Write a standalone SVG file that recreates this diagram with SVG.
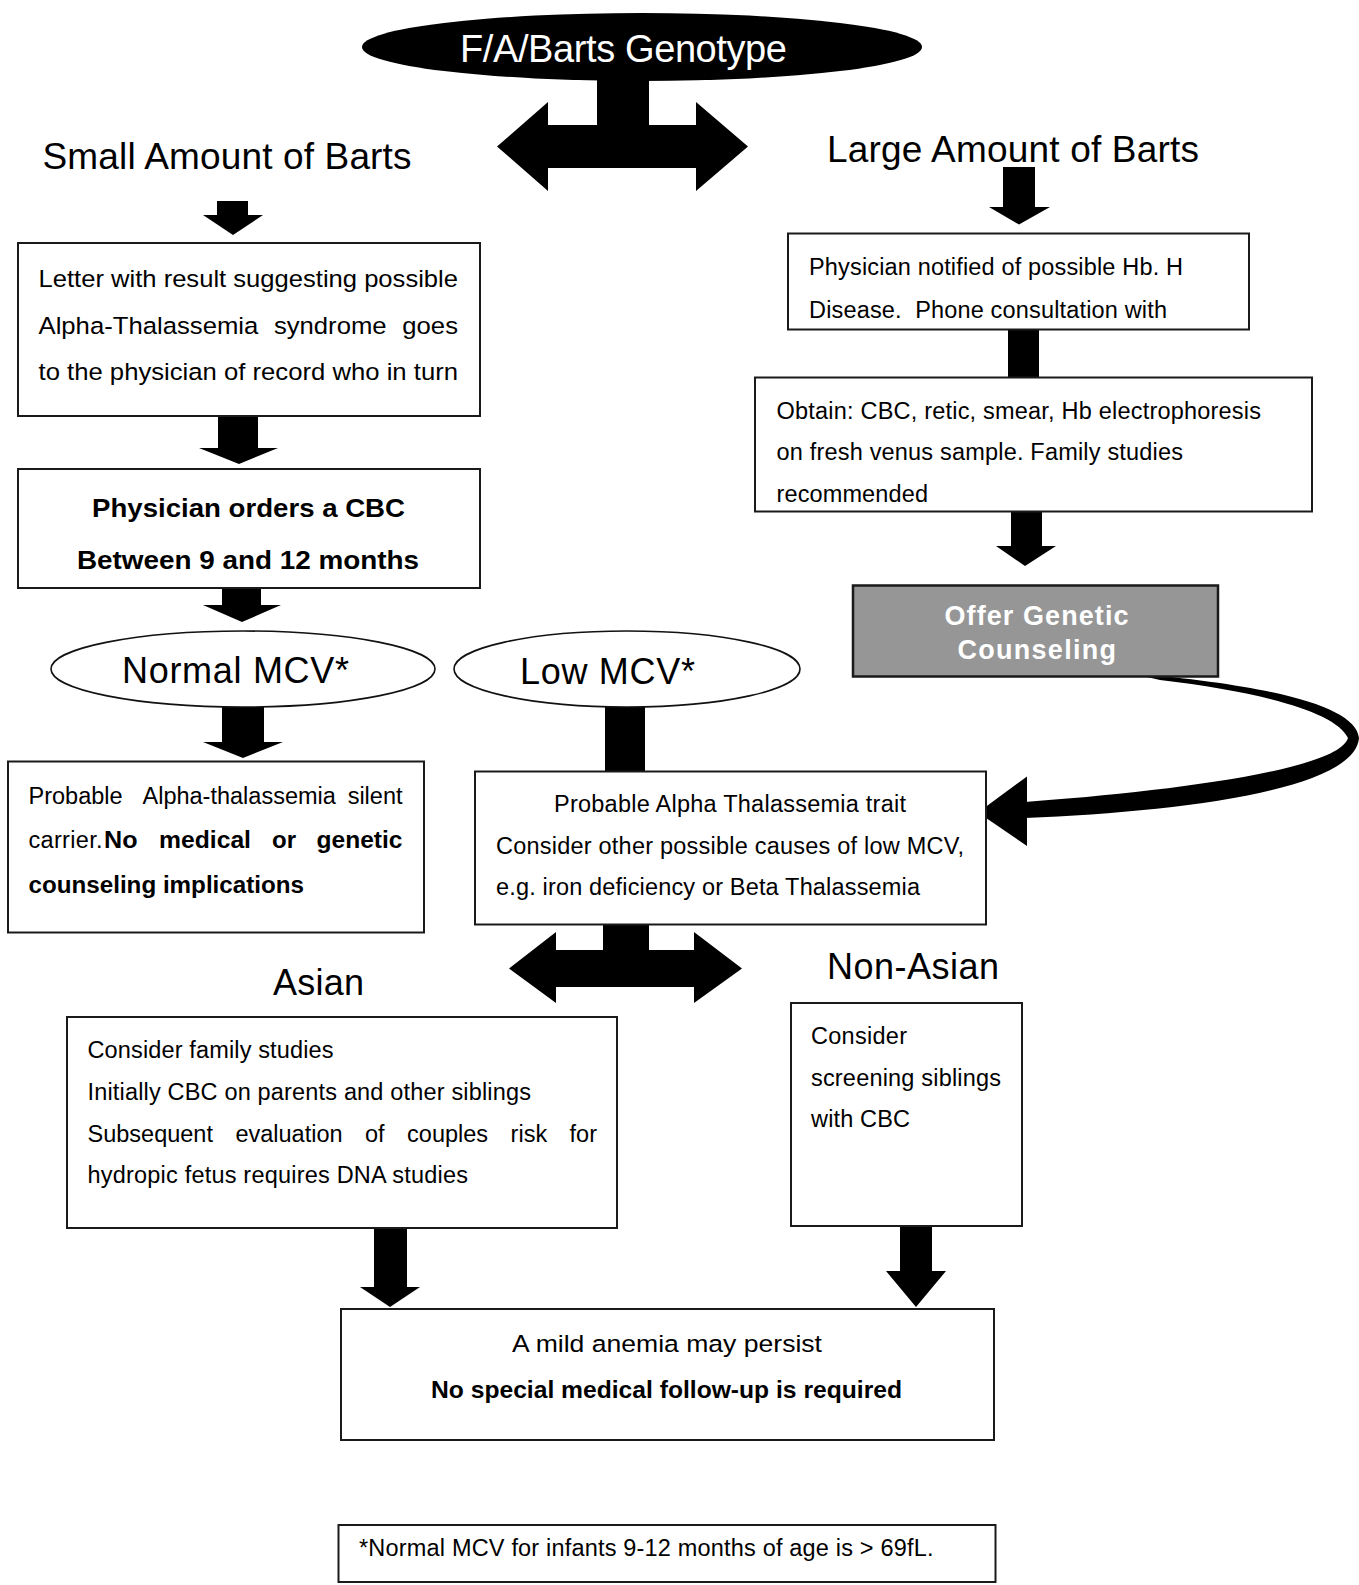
<svg xmlns="http://www.w3.org/2000/svg" width="1359" height="1585" viewBox="0 0 1359 1585">
<style>
.box{fill:#fff;stroke:#1a1a1a;stroke-width:2}
.ell{fill:#fff;stroke:#111;stroke-width:1.6}
.arr{fill:#000;stroke:none}
.t{font-family:"Liberation Sans",Arial,sans-serif;font-size:23.5px;fill:#000}
.w{font-family:"Liberation Sans",Arial,sans-serif;font-size:24.5px;fill:#000}
.b{font-family:"Liberation Sans",Arial,sans-serif;font-size:24.5px;font-weight:bold;fill:#000}
.big{font-family:"Liberation Sans",Arial,sans-serif;font-size:37px;fill:#000}
.mid{font-family:"Liberation Sans",Arial,sans-serif;font-size:36px;fill:#000}
.gt{font-family:"Liberation Sans",Arial,sans-serif;font-size:27px;font-weight:bold;fill:#fff}
</style>
<rect width="1359" height="1585" fill="#fff"/>
<g id="connectors">
  <path class="arr" d="M597 78 L597 125 L548 125 L548 102 L497 146.5 L548 191 L548 168 L696 168 L696 191 L748 146.5 L696 102 L696 125 L649 125 L649 78 Z"/>
  <path class="arr" d="M217 201 L248 201 L248 215 L263 215 L233 235 L203 215 L217 215 Z"/>
  <path class="arr" d="M218 416 L258 416 L258 448 L278 448 L239 464 L199 448 L218 448 Z"/>
  <path class="arr" d="M222 588 L261 588 L261 605 L281 605 L242 622 L203 605 L222 605 Z"/>
  <path class="arr" d="M222 707 L264 707 L264 742 L283 742 L243 758 L203 742 L222 742 Z"/>
  <rect class="arr" x="605" y="707" width="40" height="65"/>
  <path class="arr" d="M603 924 L603 950 L556 950 L556 932 L509 968.5 L556 1003 L556 987 L694 987 L694 1003 L742 968.5 L694 932 L694 950 L649 950 L649 924 Z"/>
  <path class="arr" d="M374 1228 L407 1228 L407 1287 L420 1287 L390 1307 L360 1287 L374 1287 Z"/>
  <path class="arr" d="M900 1226 L932 1226 L932 1271 L946 1271 L916 1307 L886 1271 L900 1271 Z"/>
  <path class="arr" d="M1003 167 L1035 167 L1035 207 L1050 207 L1019 224.5 L989 207 L1003 207 Z"/>
  <rect class="arr" x="1008" y="329" width="31" height="49"/>
  <path class="arr" d="M1011 511 L1042 511 L1042 546 L1056 546 L1025 566 L996 546 L1011 546 Z"/>
  <path class="arr" d="M1130 673 C1280 686 1356 708 1359 738 C1355 790 1180 812 1025 818 L1025 802 C1150 793 1338 772 1348 738 C1336 712 1262 692 1160 680 Z"/>
  <path class="arr" d="M978 812.5 L1027 776.5 L1027 846 Z"/>
</g>
<g id="title">
  <ellipse cx="642" cy="47" rx="280" ry="34" fill="#000"/>
  <text x="460" y="62" textLength="327" style="font-family:'Liberation Sans',Arial,sans-serif;font-size:38px;fill:#fff">F/A/Barts Genotype</text>
</g>
<g id="small-label"><text class="big" x="42.5" y="169" textLength="369">Small Amount of Barts</text></g>
<g id="large-label"><text class="big" x="827" y="162" textLength="372">Large Amount of Barts</text></g>
<g id="letter">
  <rect class="box" x="18" y="243" width="462" height="173"/>
  <text class="w" x="38.5" y="287" textLength="419.5" lengthAdjust="spacingAndGlyphs">Letter with result suggesting possible</text>
  <text class="w" x="38.5" y="334" textLength="219.8" lengthAdjust="spacingAndGlyphs">Alpha-Thalassemia</text>
  <text class="w" x="273.9" y="334" textLength="112.7" lengthAdjust="spacingAndGlyphs">syndrome</text>
  <text class="w" x="402.3" y="334" textLength="55.7" lengthAdjust="spacingAndGlyphs">goes</text>
  <text class="w" x="38.5" y="380" textLength="419.5" lengthAdjust="spacingAndGlyphs">to the physician of record who in turn</text>
</g>
<g id="orders-cbc">
  <rect class="box" x="18" y="469" width="462" height="119"/>
  <text class="b" x="92" y="517" textLength="313" lengthAdjust="spacingAndGlyphs" style="font-size:25px">Physician orders a CBC</text>
  <text class="b" x="77" y="569" textLength="342" lengthAdjust="spacingAndGlyphs" style="font-size:25px">Between 9 and 12 months</text>
</g>
<g id="normal-mcv">
  <ellipse class="ell" cx="243" cy="669" rx="192" ry="38"/>
  <text class="mid" x="122" y="683" textLength="227">Normal MCV*</text>
</g>
<g id="low-mcv">
  <ellipse class="ell" cx="627" cy="669" rx="173" ry="38"/>
  <text class="mid" x="520" y="684" textLength="175">Low MCV*</text>
</g>
<g id="silent-carrier">
  <rect class="box" x="8" y="761.5" width="416" height="171"/>
  <text class="t" x="28.5" y="803.5">Probable</text>
  <text class="t" x="142.5" y="803.5">Alpha-thalassemia</text>
  <text class="t" x="402.5" y="803.5" text-anchor="end">silent</text>
  <text class="t" x="28.5" y="847.5" textLength="74">carrier.</text>
  <text class="b" x="104" y="847.5" textLength="33.5" lengthAdjust="spacingAndGlyphs" style="font-size:23.5px">No</text>
  <text class="b" x="159" y="847.5" textLength="92" lengthAdjust="spacingAndGlyphs" style="font-size:23.5px">medical</text>
  <text class="b" x="272" y="847.5" textLength="24" lengthAdjust="spacingAndGlyphs" style="font-size:23.5px">or</text>
  <text class="b" x="316.5" y="847.5" textLength="86" lengthAdjust="spacingAndGlyphs" style="font-size:23.5px">genetic</text>
  <text class="b" x="28.5" y="893" textLength="275.5" lengthAdjust="spacingAndGlyphs" style="font-size:23.5px">counseling implications</text>
</g>
<g id="trait">
  <rect class="box" x="475" y="771.5" width="511" height="153"/>
  <text class="t" x="554" y="812" textLength="352">Probable Alpha Thalassemia trait</text>
  <text class="t" x="496" y="854" textLength="468">Consider other possible causes of low MCV,</text>
  <text class="t" x="496" y="895" textLength="424">e.g. iron deficiency or Beta Thalassemia</text>
</g>
<g id="asian-label"><text class="mid" x="273" y="995" textLength="91">Asian</text></g>
<g id="nonasian-label"><text class="mid" x="827" y="979" textLength="172">Non-Asian</text></g>
<g id="asian">
  <rect class="box" x="67" y="1017" width="550" height="211"/>
  <text class="t" x="87.5" y="1058" textLength="246">Consider family studies</text>
  <text class="t" x="87.5" y="1100" textLength="443.5">Initially CBC on parents and other siblings</text>
  <text class="t" x="87.5" y="1142">Subsequent</text>
  <text class="t" x="235.4" y="1142">evaluation</text>
  <text class="t" x="365" y="1142">of</text>
  <text class="t" x="407.1" y="1142">couples</text>
  <text class="t" x="510.6" y="1142">risk</text>
  <text class="t" x="597" y="1142" text-anchor="end">for</text>
  <text class="t" x="87.5" y="1183" textLength="380.5">hydropic fetus requires DNA studies</text>
</g>
<g id="nonasian">
  <rect class="box" x="791" y="1003" width="231" height="223"/>
  <text class="t" x="811" y="1044" textLength="96">Consider</text>
  <text class="t" x="811" y="1086" textLength="190">screening siblings</text>
  <text class="t" x="811" y="1127" textLength="99">with CBC</text>
</g>
<g id="outcome">
  <rect class="box" x="341" y="1309" width="653" height="131"/>
  <text class="w" x="512" y="1352" textLength="310" lengthAdjust="spacingAndGlyphs">A mild anemia may persist</text>
  <text class="b" x="431" y="1398" textLength="471" lengthAdjust="spacingAndGlyphs">No special medical follow-up is required</text>
</g>
<g id="footnote">
  <rect class="box" x="338.5" y="1525" width="657" height="57"/>
  <text class="t" x="359" y="1556" textLength="574.5">*Normal MCV for infants 9-12 months of age is &gt; 69fL.</text>
</g>
<g id="hbh">
  <rect class="box" x="788" y="233.5" width="461" height="96"/>
  <text class="t" x="809" y="275" textLength="374">Physician notified of possible Hb. H</text>
  <text class="t" x="809" y="317.5" textLength="358" xml:space="preserve">Disease.  Phone consultation with</text>
</g>
<g id="obtain">
  <rect class="box" x="755" y="377.5" width="557" height="134"/>
  <text class="t" x="776.5" y="418.5" textLength="484.5">Obtain: CBC, retic, smear, Hb electrophoresis</text>
  <text class="t" x="776.5" y="460" textLength="406.5">on fresh venus sample. Family studies</text>
  <text class="t" x="776.5" y="501.5" textLength="151.5">recommended</text>
</g>
<g id="genetic-counseling">
  <rect x="853" y="585.5" width="365" height="91" fill="#969696" stroke="#1a1a1a" stroke-width="2.5"/>
  <text class="gt" x="944.5" y="625" textLength="184">Offer Genetic</text>
  <text class="gt" x="957.5" y="659" textLength="158.5">Counseling</text>
</g>
</svg>
